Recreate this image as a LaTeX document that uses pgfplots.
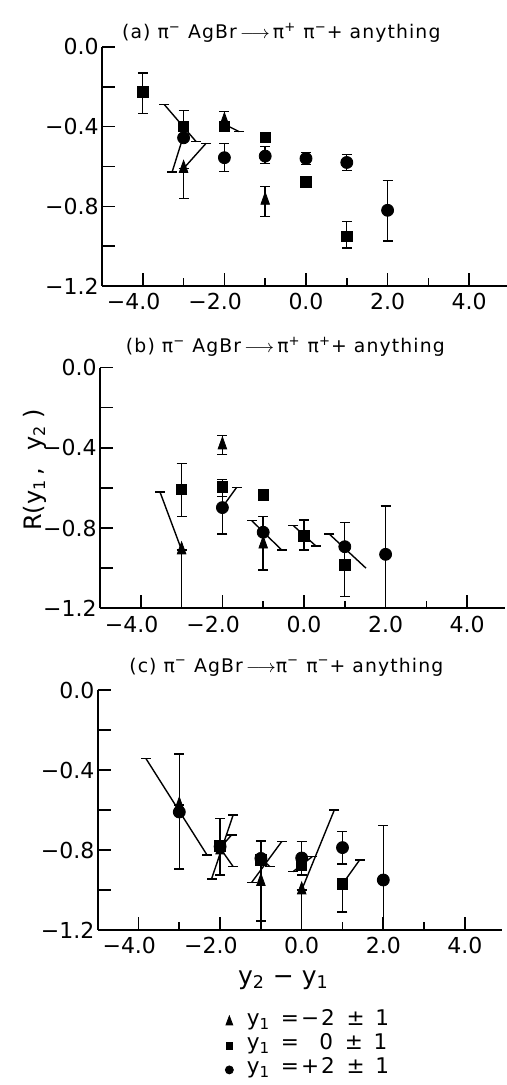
\documentclass[border=0pt]{standalone}
\usepackage{fontspec}
\setmainfont{DejaVu Sans}
\newfontfamily\titlefont[LetterSpace=6]{DejaVu Sans}
\newfontfamily\legfont[LetterSpace=8]{DejaVu Sans}
\usepackage{pgfplots}
\pgfplotsset{compat=1.18}

\pgfplotsset{
  panel/.style={
    x=20.4pt, y=100pt,
    xmin=-5, xmax=4.92, ymin=-1.2, ymax=0,
    axis x line=bottom, axis y line=left,
    axis line style={-, line width=0.9pt},
    tick align=inside,
    every tick/.style={black, line width=0.8pt},
    major tick length=6.5pt, minor tick length=3.8pt,
    xtick={-4,-2,0,2,4},
    xticklabels={\llap{−}4.0,\llap{−}2.0,0.0,2.0,4.0},
    minor xtick={-3,-1,1,3},
    ytick={0,-0.2,-0.4,-0.6,-0.8,-1.0,-1.2},
    yticklabels={0.0,,−0.4,,−0.8,,−1.2},
    tick label style={font=\fontsize{11}{12}\selectfont},
    xticklabel style={anchor=north, inner sep=0pt, yshift=-3.6pt},
    yticklabel style={anchor=east, inner sep=0pt, xshift=-1.5pt},
    every axis title shift=0pt,
    title style={anchor=center, font=\titlefont\fontsize{9.4}{10}\selectfont},
    clip=false,
  },
  eb/.style={
    error bars/y dir=both, error bars/y explicit,
    error bars/error bar style={line width=0.7pt, black},
    error bars/error mark options={rotate=90, mark size=2.5pt, line width=0.7pt, black},
  },
  tri/.style={only marks, eb, mark=triangle*, mark size=4pt,
    mark options={xscale=0.62, fill=black, draw=black}},
  sq/.style={only marks, eb, mark=square*, mark size=2.6pt,
    mark options={fill=black, draw=black}},
  ci/.style={only marks, eb, mark=*, mark size=3pt,
    mark options={fill=black, draw=black}},
  slant/.style={black, line width=0.7pt, mark=-, mark size=2.5pt,
    mark options={solid, line width=0.7pt}, forget plot},
  legmark/.style={legend image code/.code={%
    \draw[##1] plot coordinates {(0pt,0pt)};
    \path (-3.5pt,0pt) (8pt,0pt);}},
}

\begin{document}
\begin{tikzpicture}
\path[use as bounding box] (0pt,0pt) rectangle (253.5pt,542.5pt);

% ---------------- (a) pi+ pi- ----------------
\begin{axis}[panel, y=99.6pt, at={(51pt,399.5pt)}, anchor=south west,
  title={(a) π\textsuperscript{−} AgBr\,$\longrightarrow$\,π\textsuperscript{+} π\textsuperscript{−}+ anything},
  title style={at={(0.443,1)}, yshift=7pt}]
\addplot[tri] table[x=x, y=y, y error plus=ep, y error minus=em] {
x   y      ep     em
-3  -0.61  0      0.15
-2  -0.37  0.045  0.045
-1  -0.77  0.07   0.08
};
\addplot[sq] table[x=x, y=y, y error plus=ep, y error minus=em] {
x   y      ep     em
-4  -0.225 0.095  0.11
-3  -0.40  0.08   0.06
-2  -0.40  0      0
-1  -0.455 0.025  0.025
0   -0.677 0.015  0.015
1   -0.95  0.075  0.06
};
\addplot[ci] table[x=x, y=y, y error plus=ep, y error minus=em] {
x   y      ep     em
-3  -0.456 0      0
-2  -0.556 0.07   0.07
-1  -0.548 0.048  0.037
0   -0.56  0.031  0.031
1   -0.58  0.04   0.04
2   -0.82  0.15   0.155
};
\addplot[slant] coordinates {(-3.47,-0.29) (-2.69,-0.476)};
\addplot[slant, mark indices={2}] coordinates {(-3.04,-0.47) (-3.28,-0.627)};
\addplot[slant, mark indices={2}] coordinates {(-3.0,-0.61) (-2.45,-0.484)};
\addplot[slant, mark indices={2}] coordinates {(-1.98,-0.39) (-1.64,-0.425)};
\end{axis}

% ---------------- (b) pi+ pi+ ----------------
\begin{axis}[panel, y=100.3pt, at={(50pt,238.35pt)}, anchor=south west,
  title={(b) π\textsuperscript{−} AgBr\,$\longrightarrow$\,π\textsuperscript{+} π\textsuperscript{+}+ anything},
  title style={at={(0.458,1)}, yshift=10.3pt},
  ylabel={R(y\textsubscript{1}\,,\hspace{0.7em}y\textsubscript{2}\hspace{0.3em})},
  ylabel style={at={(rel axis cs:0,0.575)}, anchor=center, yshift=32.5pt,
    font=\fontsize{12}{13}\selectfont}]
\addplot[tri] table[x=x, y=y, y error plus=ep, y error minus=em] {
x   y      ep     em
-3  -0.909 0      0.291
-2  -0.386 0.047  0.047
-1  -0.88  0.137  0.129
};
\addplot[sq] table[x=x, y=y, y error plus=ep, y error minus=em] {
x   y      ep     em
-3  -0.607 0.13   0.136
-2  -0.594 0.037  0.049
-1  -0.635 0.015  0.015
0   -0.839 0.079  0.07
1   -0.984 0.213  0.158
};
\addplot[ci] table[x=x, y=y, y error plus=ep, y error minus=em] {
x   y      ep     em
-2  -0.698 0.13   0.132
-1  -0.821 0      0
1   -0.893 0      0
2   -0.931 0.241  0.264
};
\addplot[slant, mark indices={1}] coordinates {(-3.53,-0.62) (-3.0,-0.909)};
\addplot[slant, mark indices={2}] coordinates {(-1.98,-0.69) (-1.65,-0.597)};
\addplot[slant] coordinates {(-1.28,-0.763) (-0.55,-0.909)};
\addplot[slant] coordinates {(-0.26,-0.788) (0.29,-0.889)};
\addplot[slant, mark indices={1}] coordinates {(0.62,-0.83) (1.52,-1.0)};
\end{axis}

% ---------------- (c) pi- pi- ----------------
\begin{axis}[panel, y=100pt, at={(48.85pt,77.5pt)}, anchor=south west,
  title={(c) π\textsuperscript{−} AgBr\,$\longrightarrow$π\textsuperscript{−} π\textsuperscript{−}+ anything},
  title style={at={(0.466,1)}, yshift=11.5pt},
  xlabel={y\textsubscript{2} − y\textsubscript{1}},
  xlabel style={at={(rel axis cs:0.459,0)}, anchor=center, yshift=-25pt,
    font=\fontsize{12.5}{13}\selectfont},
  legend style={at={(rel axis cs:0.307,-0.333)}, anchor=north west,
    draw=none, fill=none, inner sep=0pt, outer sep=0pt, row sep=0pt,
    font=\legfont\fontsize{10.8}{11}\selectfont,
    nodes={inner sep=0.5pt, text height=7.5pt, text depth=3.5pt}},
  legend cell align=left]
\addlegendimage{only marks, legmark, mark=triangle*, mark size=3pt,
  mark options={xscale=0.65, fill=black}}
\addlegendentry{y\textsubscript{1}\hspace{0.5em}=\hspace{0.1em}−2\hspace{0.15em} ±\hspace{0.1em} 1}
\addlegendimage{only marks, legmark, mark=square*, mark size=1.7pt,
  mark options={fill=black}}
\addlegendentry{y\textsubscript{1}\hspace{0.5em}=\hspace{0.1em}\phantom{−}0\hspace{0.15em} ±\hspace{0.1em} 1}
\addlegendimage{only marks, legmark, mark=*, mark size=2pt,
  mark options={fill=black}}
\addlegendentry{y\textsubscript{1}\hspace{0.5em}=\hspace{0.1em}+2\hspace{0.15em} ±\hspace{0.1em} 1}
\addplot[tri, forget plot] table[x=x, y=y, y error plus=ep, y error minus=em] {
x   y      ep     em
-3  -0.575 0      0
-2  -0.80  0      0
-1  -0.958 0.203  0.197
0   -1.0   0      0.2
};
\addplot[sq, forget plot] table[x=x, y=y, y error plus=ep, y error minus=em] {
x   y      ep     em
-2  -0.78  0      0
-1  -0.85  0      0
0   -0.875 0      0
1   -0.97  0      0.14
};
\addplot[ci, forget plot] table[x=x, y=y, y error plus=ep, y error minus=em] {
x   y      ep     em
-3  -0.61  0.29   0.285
-2  -0.783 0.141  0.142
-1  -0.842 0.084  0
0   -0.84  0.082  0.085
1   -0.788 0.08   0.082
2   -0.95  0.273  0.25
};
\addplot[slant] coordinates {(-3.82,-0.342) (-2.32,-0.825)};
\addplot[slant] coordinates {(-2.21,-0.945) (-1.68,-0.625)};
\addplot[slant, mark indices={1,3}] coordinates {(-1.72,-0.725) (-2.0,-0.79) (-1.68,-0.883)};
\addplot[slant] coordinates {(-1.23,-0.963) (-0.49,-0.758)};
\addplot[slant, mark indices={2}] coordinates {(-1.0,-0.842) (-0.78,-0.883)};
\addplot[slant] coordinates {(-0.21,-0.908) (0.26,-0.833)};
\addplot[slant, mark indices={2}] coordinates {(0.0,-1.0) (0.8,-0.6)};
\addplot[slant, mark indices={2}] coordinates {(1.0,-0.97) (1.42,-0.85)};
\end{axis}
\end{tikzpicture}
\end{document}
